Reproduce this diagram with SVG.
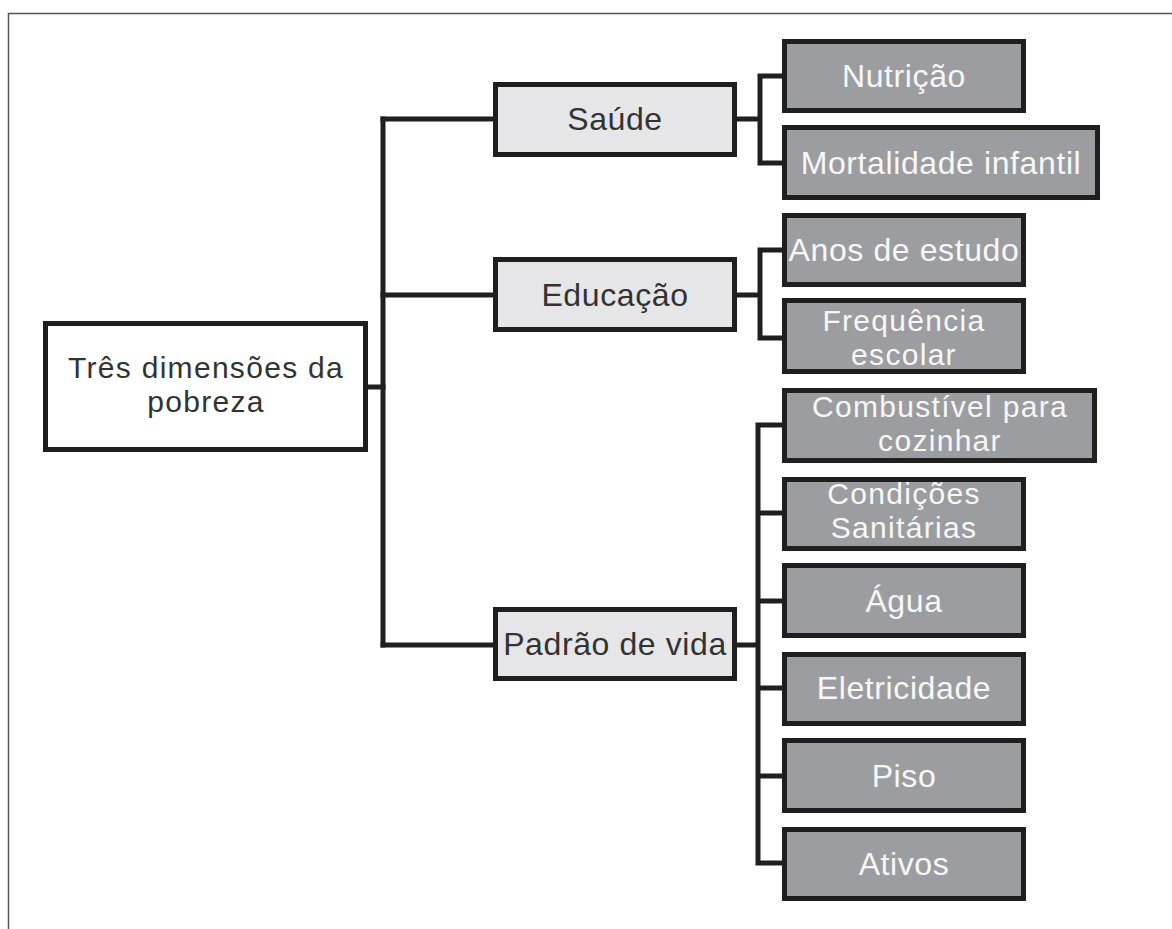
<svg xmlns="http://www.w3.org/2000/svg" width="1172" height="929" viewBox="0 0 1172 929">
<style>
.root rect{fill:#ffffff;stroke:#1f1f1f;stroke-width:5}
.mid rect{fill:#e6e6e8;stroke:#1f1f1f;stroke-width:5}
.leaf rect{fill:#9c9da1;stroke:#1f1f1f;stroke-width:5}
text{font-family:"Liberation Sans",Arial,sans-serif;font-size:32px;letter-spacing:0.6px;text-anchor:middle}
text.two{font-size:30px;letter-spacing:1.3px}
.root text,.mid text{fill:#333333}
.leaf text{fill:#f7f7f7}
.conn path{fill:none;stroke:#1f1f1f;stroke-width:5;stroke-linecap:square;stroke-linejoin:miter}
</style>
<rect width="1172" height="929" fill="#ffffff"/>
<path d="M8.5,929 V13.5 H1172" fill="none" stroke="#555555" stroke-width="1.5"/>
<g id="connectors" class="conn">
<path d="M368,387 H383"/>
<path d="M383,119 V645"/>
<path d="M383,119 H493 M383,295 H493 M383,645 H493"/>
<path d="M737,119 H760 M760,76 V163 M760,76 H782 M760,163 H782"/>
<path d="M737,295 H760 M760,250 V338 M760,250 H782 M760,338 H782"/>
<path d="M737,645 H758 M758,425 V863 M758,425 H782 M758,513 H782 M758,601 H782 M758,688 H782 M758,776 H782 M758,863 H782"/>
</g>
<g id="root" class="root">
<rect x="45.5" y="323.5" width="320" height="126"/>
<text class="two" x="206" y="378">Três dimensões da</text>
<text class="two" x="206" y="412">pobreza</text>
</g>
<g id="saude" class="mid">
<rect x="495.5" y="84.5" width="239" height="70"/>
<text x="615" y="130">Saúde</text>
</g>
<g id="educacao" class="mid">
<rect x="495.5" y="259.5" width="239" height="70"/>
<text x="615" y="306">Educação</text>
</g>
<g id="padrao" class="mid">
<rect x="495.5" y="609.5" width="239" height="69"/>
<text x="615" y="655">Padrão de vida</text>
</g>
<g id="nutricao" class="leaf">
<rect x="784.5" y="41.5" width="239" height="69"/>
<text x="904" y="87">Nutrição</text>
</g>
<g id="mortalidade" class="leaf">
<rect x="784.5" y="127.5" width="313" height="70"/>
<text x="941" y="174">Mortalidade infantil</text>
</g>
<g id="anos" class="leaf">
<rect x="784.5" y="215.5" width="239" height="69"/>
<text x="904" y="261">Anos de estudo</text>
</g>
<g id="frequencia" class="leaf">
<rect x="784.5" y="300.5" width="239" height="71"/>
<text class="two" x="904" y="331">Frequência</text>
<text class="two" x="904" y="365">escolar</text>
</g>
<g id="combustivel" class="leaf">
<rect x="784.5" y="390.5" width="310" height="70"/>
<text class="two" x="940" y="417">Combustível para</text>
<text class="two" x="940" y="451">cozinhar</text>
</g>
<g id="condicoes" class="leaf">
<rect x="784.5" y="479.5" width="239" height="69"/>
<text class="two" x="904" y="504">Condições</text>
<text class="two" x="904" y="538">Sanitárias</text>
</g>
<g id="agua" class="leaf">
<rect x="784.5" y="565.5" width="239" height="70"/>
<text x="904" y="612">Água</text>
</g>
<g id="eletricidade" class="leaf">
<rect x="784.5" y="654.5" width="239" height="69"/>
<text x="904" y="699">Eletricidade</text>
</g>
<g id="piso" class="leaf">
<rect x="784.5" y="740.5" width="239" height="70"/>
<text x="904" y="787">Piso</text>
</g>
<g id="ativos" class="leaf">
<rect x="784.5" y="829.5" width="239" height="69"/>
<text x="904" y="875">Ativos</text>
</g>
</svg>
